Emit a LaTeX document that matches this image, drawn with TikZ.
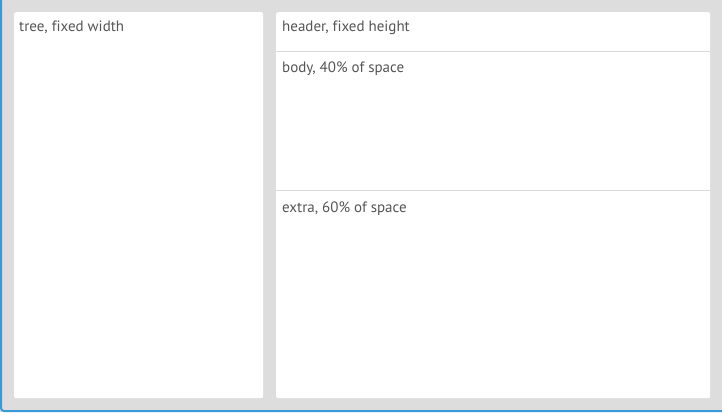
\documentclass[tikz,border=0pt]{standalone}
\usepackage{fontspec}
\setmainfont{PT Sans}[Ligatures=NoCommon]
\definecolor{bggray}{HTML}{DDDDDD}
\definecolor{edgeblue}{HTML}{3A9AD9}
\definecolor{txtgray}{HTML}{555555}
\definecolor{rulegray}{HTML}{DADADA}
\usetikzlibrary{positioning}

\begin{document}
\begin{tikzpicture}[
  x=1pt, y=-1pt,
  panel/.style={fill=white, rounded corners=2pt, inner sep=0pt, anchor=north west, minimum height=386pt},
  part/.style={inner sep=0pt, anchor=north west, minimum width=434pt},
  lbl/.style={font=\fontsize{15}{17}\selectfont, text=txtgray, anchor=base west, inner sep=0pt},
  sep/.style={draw=rulegray, line width=1pt},
]

% window background
\useasboundingbox (0,0) rectangle (722,412);
\fill[bggray] (0,0) rectangle (722,412);
\draw[edgeblue, line width=2pt, rounded corners=3pt] (1,0) -- (1,411) -- (722,411);

% left side: tree
\node[panel, minimum width=249pt] (tree) at (14,12) {};
\node[lbl] (tree_lbl) at (19,32) {tree, fixed width};

% right side: header, body, extra
\node[panel, minimum width=434pt] (main) at (276,12) {};
\node[part, minimum height=39pt] (header) at (276,12) {};
\node[part, minimum height=139pt] (body) at (276,51) {};
\node[part, minimum height=208pt] (extra) at (276,190) {};

\draw[sep] (header.south west) -- (header.south east);
\draw[sep] (body.south west) -- (body.south east);

\node[lbl] (header_lbl) at (282,32) {header, fixed height};
\node[lbl] (body_lbl) at (282,73) {body, 40\% of space};
\node[lbl] (extra_lbl) at (282,212) {extra, 60\% of space};

\end{tikzpicture}
\end{document}
